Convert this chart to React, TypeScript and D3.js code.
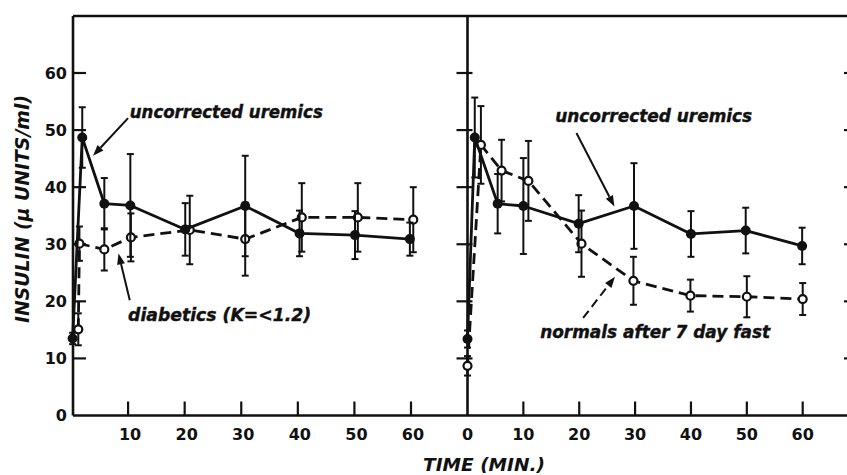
import React from "react";
import * as d3 from "d3";

// ---- Data ----
const yTicks = [0, 10, 20, 30, 40, 50, 60];
const xTicksLeft = [10, 20, 30, 40, 50, 60];
const xTicksRight = [0, 10, 20, 30, 40, 50, 60];

// Left panel: uncorrected uremics (filled, solid)
const leftUremicTime = [0.2, 1.9, 5.8, 10.4, 20.1, 30.7, 40.3, 50.1, 59.8];
const leftUremicMean = [13.5, 48.7, 37.1, 36.8, 32.6, 36.7, 31.9, 31.6, 30.9];
const leftUremicErr = [1.0, 5.3, 4.5, 9.0, 4.6, 8.8, 4.0, 4.2, 2.9];

// Left panel: diabetics (open, dashed)
const leftDiabTime = [1.2, 1.4, 5.8, 10.5, 20.9, 30.7, 40.7, 50.6, 60.4];
const leftDiabMean = [15.1, 30.1, 29.1, 31.2, 32.5, 30.9, 34.7, 34.7, 34.3];
const leftDiabErr = [2.8, 3.0, 3.7, 4.2, 6.0, 6.4, 6.0, 6.0, 5.7];

// Right panel: uncorrected uremics (filled, solid)
const rightUremicTime = [0, 1.3, 5.4, 10.0, 19.9, 29.8, 40.0, 49.8, 59.9];
const rightUremicMean = [13.4, 48.7, 37.1, 36.7, 33.6, 36.7, 31.8, 32.4, 29.7];
const rightUremicErr = [1.5, 7.0, 5.2, 8.4, 5.0, 7.5, 4.0, 4.0, 3.2];

// Right panel: normals after 7 day fast (open, dashed)
const rightNormTime = [0, 2.4, 6.1, 10.9, 20.4, 29.7, 39.9, 50.0, 60.0];
const rightNormMean = [8.7, 47.4, 42.9, 41.1, 30.1, 23.6, 21.0, 20.8, 20.4];
const rightNormErr = [1.7, 6.8, 5.4, 7.0, 5.8, 4.2, 2.8, 3.6, 2.8];

type Pt = { t: number; v: number; e: number };
const zip = (t: number[], v: number[], e: number[]): Pt[] =>
  t.map((tt, i) => ({ t: tt, v: v[i], e: e[i] }));

const W = 847;
const H = 475;

const y = d3.scaleLinear().domain([0, 60]).range([415.5, 73]);
const xL = d3.scaleLinear().domain([0, 60]).range([71.5, 411]);
const xR = d3.scaleLinear().domain([0, 60]).range([467.5, 802.7]);

const TOP = 16;
const LEFT_AXIS = 73;
const RIGHT_EDGE = W;

const INK = "#111";
const LABEL_FONT = "'DejaVu Sans', sans-serif";

function Series({
  data,
  x,
  open,
}: {
  data: Pt[];
  x: d3.ScaleLinear<number, number>;
  open: boolean;
}) {
  const line = d3
    .line<Pt>()
    .x((d) => x(d.t))
    .y((d) => y(d.v));
  const cap = 3.5;
  return (
    <g>
      <path
        d={line(data) || ""}
        fill="none"
        stroke={INK}
        strokeWidth={2.8}
        strokeDasharray={open ? "11,6" : undefined}
        strokeLinejoin="round"
      />
      {data.map((d, i) => (
        <g key={i} stroke={INK} strokeWidth={2}>
          <line x1={x(d.t)} x2={x(d.t)} y1={y(d.v - d.e)} y2={y(d.v + d.e)} />
          <line x1={x(d.t) - cap} x2={x(d.t) + cap} y1={y(d.v + d.e)} y2={y(d.v + d.e)} />
          <line x1={x(d.t) - cap} x2={x(d.t) + cap} y1={y(d.v - d.e)} y2={y(d.v - d.e)} />
        </g>
      ))}
      {data.map((d, i) =>
        open ? (
          <circle key={"m" + i} cx={x(d.t)} cy={y(d.v)} r={4} fill="#fff" stroke={INK} strokeWidth={2.2} />
        ) : (
          <circle key={"m" + i} cx={x(d.t)} cy={y(d.v)} r={5} fill={INK} />
        )
      )}
    </g>
  );
}

function Arrow({
  x1, y1, x2, y2, dashed,
}: { x1: number; y1: number; x2: number; y2: number; dashed?: boolean }) {
  const ang = Math.atan2(y2 - y1, x2 - x1);
  const L = 11;
  const Wd = 4;
  const bx = x2 - L * Math.cos(ang);
  const by = y2 - L * Math.sin(ang);
  const px = -Math.sin(ang) * Wd;
  const py = Math.cos(ang) * Wd;
  return (
    <g>
      <line
        x1={x1} y1={y1} x2={bx} y2={by}
        stroke={INK} strokeWidth={2}
        strokeDasharray={dashed ? "9,5" : undefined}
      />
      <path d={`M${x2},${y2}L${bx + px},${by + py}L${bx - px},${by - py}Z`} fill={INK} />
    </g>
  );
}

function Note({
  x, y: yy, text, width,
}: { x: number; y: number; text: string; width: number }) {
  return (
    <text
      x={x}
      y={yy}
      fontFamily={LABEL_FONT}
      fontWeight="bold"
      fontStyle="italic"
      fontSize={17}
      textLength={width}
      lengthAdjust="spacingAndGlyphs"
      fill={INK}
      stroke={INK}
      strokeWidth={0.4}
    >
      {text}
    </text>
  );
}

export default function App() {
  const leftU = zip(leftUremicTime, leftUremicMean, leftUremicErr);
  const leftD = zip(leftDiabTime, leftDiabMean, leftDiabErr);
  const rightU = zip(rightUremicTime, rightUremicMean, rightUremicErr);
  const rightN = zip(rightNormTime, rightNormMean, rightNormErr);
  const y0 = y(0);

  return (
    <svg
      width={W}
      height={H}
      viewBox={`0 0 ${W} ${H}`}
      style={{ position: "absolute", left: 0, top: 0, background: "#fff" }}
    >
      <rect x={0} y={0} width={W} height={H} fill="#fff" />
      {/* frame */}
      <g stroke={INK} strokeWidth={2.6} fill="none">
        <line x1={LEFT_AXIS} x2={RIGHT_EDGE} y1={TOP} y2={TOP} />
        <line x1={LEFT_AXIS} x2={RIGHT_EDGE} y1={y0} y2={y0} />
        <line x1={LEFT_AXIS} x2={LEFT_AXIS} y1={TOP} y2={y0} />
        <line x1={xR(0)} x2={xR(0)} y1={TOP} y2={y0} />
      </g>
      {/* y ticks */}
      <g stroke={INK} strokeWidth={2.2}>
        {yTicks.filter((v) => v > 0).map((v) => (
          <g key={v}>
            <line x1={LEFT_AXIS} x2={LEFT_AXIS + 13} y1={y(v)} y2={y(v)} />
            <line x1={xR(0) - 11} x2={xR(0) + 5} y1={y(v)} y2={y(v)} />
            <line x1={RIGHT_EDGE - 3} x2={RIGHT_EDGE} y1={y(v)} y2={y(v)} />
          </g>
        ))}
      </g>
      <g fontFamily={LABEL_FONT} fontWeight="bold" fontSize={16} fill={INK} textAnchor="end">
        {yTicks.map((v) => (
          <text key={v} x={67} y={y(v)} dy="0.36em">
            {v}
          </text>
        ))}
      </g>
      {/* x ticks */}
      <g stroke={INK} strokeWidth={2.2}>
        {xTicksLeft.map((t) => (
          <line key={"l" + t} x1={xL(t)} x2={xL(t)} y1={y0} y2={y0 - 14} />
        ))}
        {xTicksRight.filter((t) => t > 0).map((t) => (
          <line key={"r" + t} x1={xR(t)} x2={xR(t)} y1={y0} y2={y0 - 14} />
        ))}
      </g>
      <g fontFamily={LABEL_FONT} fontWeight="bold" fontSize={16} fill={INK} textAnchor="middle">
        {xTicksLeft.map((t) => (
          <text key={"l" + t} x={xL(t) + 2} y={440}>
            {t}
          </text>
        ))}
        {xTicksRight.map((t) => (
          <text key={"r" + t} x={xR(t)} y={440}>
            {t}
          </text>
        ))}
      </g>

      {/* series */}
      <Series data={leftD} x={xL} open={true} />
      <Series data={leftU} x={xL} open={false} />
      <Series data={rightN} x={xR} open={true} />
      <Series data={rightU} x={xR} open={false} />

      {/* annotations */}
      <Note x={xL(10.3)} y={y(52.2)} text="uncorrected uremics" width={193} />
      <Arrow x1={xL(10.0)} y1={y(52.1)} x2={xL(3.8)} y2={y(45.5)} />
      <Note x={xL(10.0)} y={y(16.6)} text="diabetics (K=<1.2)" width={183} />
      <Arrow x1={xL(10.3)} y1={y(20.2)} x2={xL(8.3)} y2={y(28.4)} />

      <Note x={xR(15.7)} y={y(51.5)} text="uncorrected uremics" width={197} />
      <Arrow x1={xR(19.5)} y1={y(49.5)} x2={xR(26.3)} y2={y(36.6)} />
      <Note x={xR(13.0)} y={y(13.5)} text="normals after 7 day fast" width={230} />
      <Arrow x1={xR(20.7)} y1={y(17.1)} x2={xR(26.4)} y2={y(24.3)} dashed />

      {/* axis titles */}
      <text
        transform="translate(28.5,209) rotate(-90)"
        textAnchor="middle"
        fontFamily={LABEL_FONT}
        fontWeight="bold"
        fontStyle="italic"
        fontSize={19}
        textLength={228}
        lengthAdjust="spacingAndGlyphs"
        fill={INK}
      >
        INSULIN (µ UNITS/ml)
      </text>
      <text
        x={484}
        y={471}
        textAnchor="middle"
        fontFamily={LABEL_FONT}
        fontWeight="bold"
        fontStyle="italic"
        fontSize={18}
        textLength={122}
        lengthAdjust="spacingAndGlyphs"
        fill={INK}
      >
        TIME (MIN.)
      </text>
    </svg>
  );
}
